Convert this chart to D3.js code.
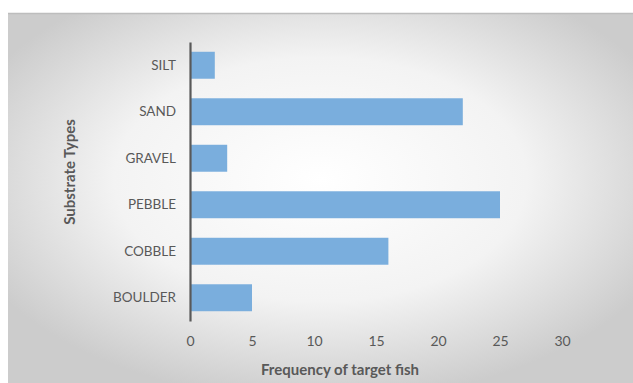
<!DOCTYPE html>
<html>
<head>
<meta charset="utf-8">
<script src="https://cdn.jsdelivr.net/npm/d3@7"></script>
<style>
  body { margin: 0; background: #fff; }
  text { font-family: Lato, "Open Sans", sans-serif; fill: #595959; }
</style>
</head>
<body>
<div id="chart"></div>
<script>
// substrate categories, top to bottom
var substrates = ['SILT', 'SAND', 'GRAVEL', 'PEBBLE', 'COBBLE', 'BOULDER'];
var frequency = [2, 22, 3, 25, 16, 5];
var xTicks = [0, 5, 10, 15, 20, 25, 30];

var width = 633, height = 383;

var svg = d3.select('#chart').append('svg')
    .attr('width', width)
    .attr('height', height);

var defs = svg.append('defs');
var grad = defs.append('radialGradient')
    .attr('id', 'bg')
    .attr('cx', '50%').attr('cy', '45%').attr('r', '60%');
grad.append('stop').attr('offset', '0%').attr('stop-color', '#ffffff');
grad.append('stop').attr('offset', '55%').attr('stop-color', '#f3f3f3');
grad.append('stop').attr('offset', '100%').attr('stop-color', '#cccccc');

// chart background panel
svg.append('rect')
    .attr('x', 8).attr('y', 13)
    .attr('width', width - 8).attr('height', height - 13)
    .attr('fill', 'url(#bg)');
svg.append('line')
    .attr('x1', 8).attr('x2', width)
    .attr('y1', 13.5).attr('y2', 13.5)
    .attr('stroke', '#bdbdbd').attr('stroke-width', 1.5);

var x = d3.scaleLinear().domain([0, 35]).range([190, 624]);
var y = d3.scaleBand().domain(substrates).range([42, 321]).paddingInner(0.42).paddingOuter(0.21);

var data = substrates.map(function (s, i) { return { name: s, value: frequency[i] }; });

svg.append('g').selectAll('rect')
    .data(data)
    .enter().append('rect')
    .attr('x', x(0))
    .attr('y', function (d) { return y(d.name); })
    .attr('width', function (d) { return x(d.value) - x(0); })
    .attr('height', y.bandwidth())
    .attr('fill', '#7aaedd');

// x axis labels, no line
var xAxis = svg.append('g')
    .attr('transform', 'translate(0,' + 321 + ')')
    .call(d3.axisBottom(x).tickValues(xTicks).tickSize(0).tickPadding(15));
xAxis.select('.domain').remove();
xAxis.selectAll('text').attr('font-size', 14).attr('fill', '#595959');

// y axis
var yAxis = svg.append('g')
    .attr('transform', 'translate(' + x(0) + ',0)')
    .call(d3.axisLeft(y).tickSize(0).tickPadding(14));
yAxis.select('.domain').attr('stroke', '#595959').attr('stroke-width', 2.2);
yAxis.selectAll('text').attr('font-size', 13.5).attr('fill', '#595959');

svg.append('text')
    .attr('x', 340).attr('y', 375)
    .attr('text-anchor', 'middle')
    .attr('font-size', 15).attr('font-weight', 'bold')
    .text('Frequency of target fish');

svg.append('text')
    .attr('transform', 'translate(75,172) rotate(-90)')
    .attr('text-anchor', 'middle')
    .attr('font-size', 15).attr('font-weight', 'bold')
    .text('Substrate Types');
</script>
</body>
</html>
